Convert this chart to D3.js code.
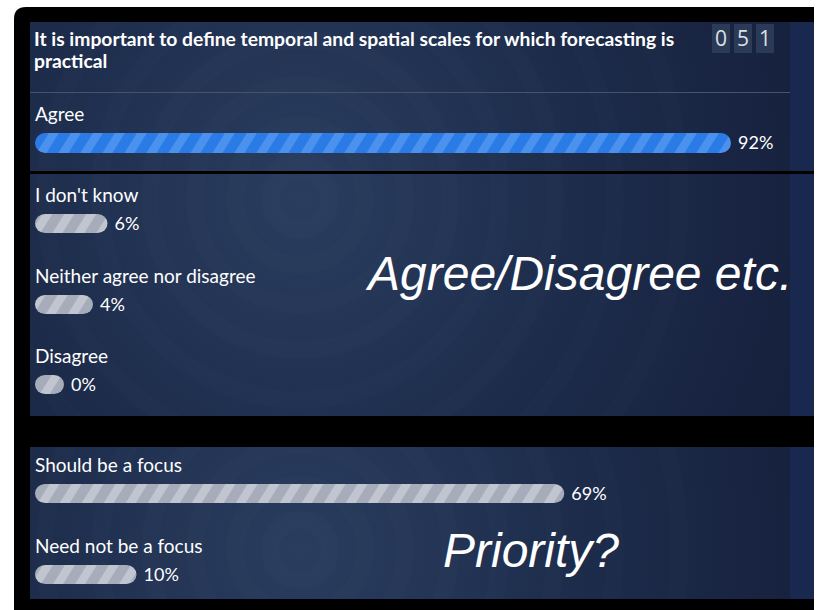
<!DOCTYPE html>
<html>
<head>
<meta charset="utf-8">
<script src="https://cdn.jsdelivr.net/npm/d3@7"></script>
<style>
  html, body { margin: 0; padding: 0; background: #ffffff; }
  svg { display: block; }
</style>
</head>
<body>
<svg id="chart" width="817" height="610"></svg>
<script>
// Poll question and counter
const question = ["It is important to define temporal and spatial scales for which forecasting is", "practical"];
const counterDigits = ["0", "5", "1"];

// Agree/Disagree block
const agreeCategories = ["Agree", "I don't know", "Neither agree nor disagree", "Disagree"];
const agreeValues = [92, 6, 4, 0];

// Priority block
const priorityCategories = ["Should be a focus", "Need not be a focus"];
const priorityValues = [69, 10];

const captions = ["Agree/Disagree etc.", "Priority?"];

const svg = d3.select("#chart");
const defs = svg.append("defs");

// Width of a bar: a pill never shrinks below its own height
const barLen = d3.scaleLinear().domain([0, 100]).range([29, 754]);

function stripes(id, base, light) {
  const p = defs.append("pattern").attr("id", id)
    .attr("patternUnits", "userSpaceOnUse").attr("width", 22).attr("height", 40)
    .attr("patternTransform", "skewX(-32)");
  p.append("rect").attr("width", 22).attr("height", 40).attr("fill", base);
  p.append("rect").attr("x", 0).attr("width", 10).attr("height", 40).attr("fill", light);
}
stripes("stripeBlue", "#2a7be6", "#4b91ee");
stripes("stripeGrey", "#a6acba", "#c0c5d0");

// Black frame
svg.append("path")
  .attr("d", "M14,19 Q14,7 26,7 L814,7 L814,610 L14,610 Z")
  .attr("fill", "#000");

// Panels (three stacked screens)
const panels = [
  { y0: 22, y1: 171, cx: 300, cy: 190 },
  { y0: 174, y1: 416, cx: 300, cy: 200 },
  { y0: 447, y1: 599, cx: 300, cy: 550 }
];
panels.forEach((p, i) => {
  const clipId = "clip" + i;
  defs.append("clipPath").attr("id", clipId)
    .append("rect").attr("x", 30).attr("y", p.y0).attr("width", 784).attr("height", p.y1 - p.y0);
  const g = svg.append("g").attr("clip-path", `url(#${clipId})`);
  const rg = defs.append("radialGradient").attr("id", "pg" + i)
    .attr("gradientUnits", "userSpaceOnUse").attr("cx", p.cx).attr("cy", p.cy).attr("r", 560);
  rg.append("stop").attr("offset", "0").attr("stop-color", "#2a3d5f");
  rg.append("stop").attr("offset", "0.5").attr("stop-color", "#1d2c4b");
  rg.append("stop").attr("offset", "1").attr("stop-color", "#151f3b");
  g.append("rect").attr("x", 30).attr("y", p.y0).attr("width", 784).attr("height", p.y1 - p.y0)
    .attr("fill", `url(#pg${i})`);
  // faint concentric rings
  const radii = [30, 65, 105, 150, 200, 255, 315, 380];
  g.selectAll("circle.ring").data(radii).join("circle")
    .attr("cx", p.cx).attr("cy", p.cy).attr("r", d => d)
    .attr("fill", "none").attr("stroke", "#ffffff").attr("stroke-opacity", 0.012)
    .attr("stroke-width", 18);
  // right-hand strip
  g.append("rect").attr("x", 790).attr("y", p.y0).attr("width", 24).attr("height", p.y1 - p.y0)
    .attr("fill", "#1a2950").attr("opacity", 0.9);
});

// Divider under the question
svg.append("line").attr("x1", 30).attr("x2", 790).attr("y1", 92.5).attr("y2", 92.5)
  .attr("stroke", "#46536b").attr("stroke-width", 1);

// Question text
svg.append("g").selectAll("text").data(question).join("text")
  .attr("x", 34).attr("y", (d, i) => 46 + i * 22)
  .attr("fill", "#ffffff").attr("font-family", "Lato, sans-serif")
  .attr("font-weight", 700).attr("font-size", 19.3)
  .text(d => d);

// Counter boxes
const cg = svg.append("g");
cg.selectAll("rect").data(counterDigits).join("rect")
  .attr("x", (d, i) => 712 + i * 22).attr("y", 24).attr("width", 18).attr("height", 29)
  .attr("fill", "#2b3a57");
cg.selectAll("text").data(counterDigits).join("text")
  .attr("x", (d, i) => 721 + i * 22).attr("y", 46)
  .attr("text-anchor", "middle").attr("fill", "#dde1e8")
  .attr("font-family", "'Open Sans', sans-serif").attr("font-weight", 400).attr("font-size", 21)
  .text(d => d);

// Bar rows
function drawRows(cats, vals, tops, fills) {
  const rows = svg.append("g").selectAll("g").data(cats.map((c, i) => ({ c, v: vals[i], y: tops[i], f: fills[i] })))
    .join("g");
  rows.append("text")
    .attr("x", 35).attr("y", d => d.y - 12)
    .attr("fill", "#ffffff").attr("font-family", "Lato, sans-serif").attr("font-size", 19)
    .text(d => d.c);
  rows.append("rect")
    .attr("x", 35).attr("y", d => d.y).attr("height", d => d.f === "stripeBlue" ? 20 : 19)
    .attr("width", d => barLen(d.v))
    .attr("rx", 10).attr("ry", 10)
    .attr("fill", d => `url(#${d.f})`);
  rows.append("text")
    .attr("x", d => 35 + barLen(d.v) + 7).attr("y", d => d.y + 16)
    .attr("fill", "#ffffff").attr("font-family", "Lato, sans-serif").attr("font-size", 18)
    .text(d => d.v + "%");
}

drawRows(agreeCategories, agreeValues, [133, 214, 295, 375],
  ["stripeBlue", "stripeGrey", "stripeGrey", "stripeGrey"]);
drawRows(priorityCategories, priorityValues, [484, 565], ["stripeGrey", "stripeGrey"]);

// Section captions
svg.append("text").attr("x", 368).attr("y", 290)
  .attr("fill", "#ffffff").attr("font-family", "'Liberation Sans', Arial, sans-serif")
  .attr("font-style", "italic").attr("font-size", 48).text(captions[0]);
svg.append("text").attr("x", 443).attr("y", 567)
  .attr("fill", "#ffffff").attr("font-family", "'Liberation Sans', Arial, sans-serif")
  .attr("font-style", "italic").attr("font-size", 48).text(captions[1]);
</script>
</body>
</html>
